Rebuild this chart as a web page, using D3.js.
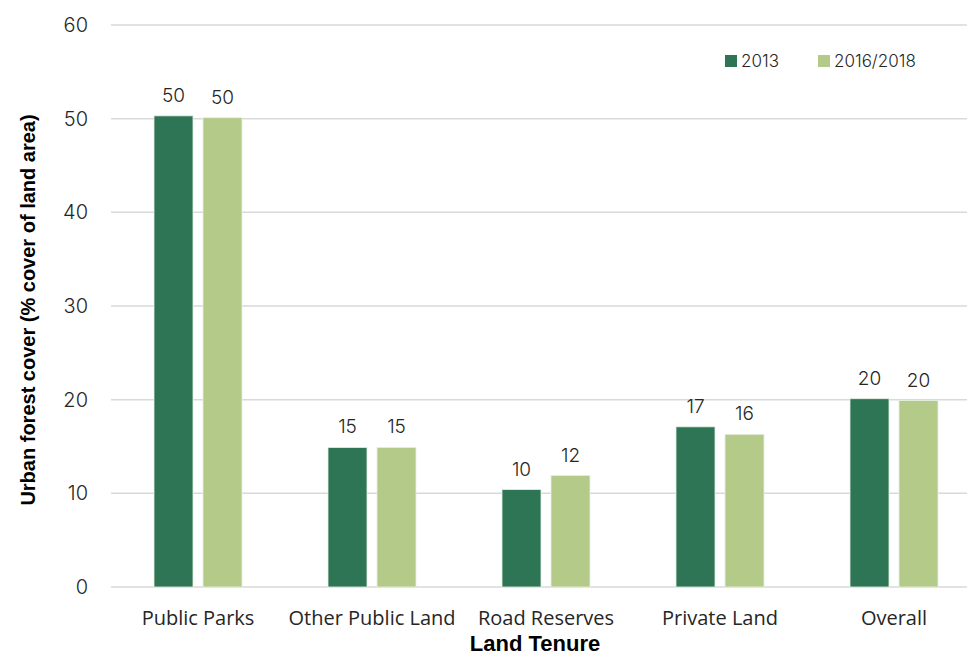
<!DOCTYPE html>
<html>
<head>
<meta charset="utf-8">
<script src="https://cdn.jsdelivr.net/npm/d3@7"></script>
<style>
  body { margin: 0; background: #fff; }
  svg { display: block; }
</style>
</head>
<body>
<div class="chart"></div>
<script>
var categories = ["Public Parks", "Other Public Land", "Road Reserves", "Private Land", "Overall"];
var series = ["2013", "2016/2018"];
var values2013 = [50.3, 14.9, 10.4, 17.1, 20.1];
var values2016 = [50.1, 14.9, 11.9, 16.3, 19.9];
var labels2013 = ["50", "15", "10", "17", "20"];
var labels2016 = ["50", "15", "12", "16", "20"];
var yTicks = [0, 10, 20, 30, 40, 50, 60];
var colors = ["#2e7556", "#b4ca89"];

var width = 967, height = 655;
var plotLeft = 111, plotRight = 981, plotTop = 25, plotBottom = 587;

var svg = d3.select(".chart")
    .append("svg")
    .attr("width", width)
    .attr("height", height);

var x0 = d3.scaleBand().domain(categories).range([plotLeft, plotRight]);
var x1 = d3.scaleBand().domain(series)
    .range([x0.step() / 2 - 44, x0.step() / 2 + 44])
    .paddingInner(10 / 49);
var y = d3.scaleLinear().domain([0, 60]).range([plotBottom, plotTop]);

// gridlines
svg.append("g")
    .selectAll("line")
    .data(yTicks)
    .enter().append("line")
    .attr("x1", plotLeft)
    .attr("x2", width)
    .attr("y1", function(d) { return y(d); })
    .attr("y2", function(d) { return y(d); })
    .style("stroke", "#d9d9d9")
    .style("stroke-width", 1.5);

// y tick labels
var yAxis = svg.append("g")
    .attr("transform", "translate(" + 88 + ",0)")
    .call(d3.axisLeft(y).tickValues(yTicks).tickSize(0).tickPadding(0));
yAxis.select(".domain").remove();
yAxis.selectAll("text")
    .style("font-family", "Inter, sans-serif")
    .style("font-weight", 300)
    .style("font-size", "20px")
    .style("fill", "#262626");

// bars
var rows = categories.map(function(c, i) {
    return [
        { cat: c, s: series[0], v: values2013[i], lab: labels2013[i], c: colors[0] },
        { cat: c, s: series[1], v: values2016[i], lab: labels2016[i], c: colors[1] }
    ];
});

var group = svg.selectAll(".grp")
    .data(rows)
    .enter().append("g")
    .attr("class", "grp")
    .attr("transform", function(d) { return "translate(" + x0(d[0].cat) + ",0)"; });

group.selectAll("rect")
    .data(function(d) { return d; })
    .enter().append("rect")
    .attr("x", function(d) { return x1(d.s); })
    .attr("y", function(d) { return y(d.v); })
    .attr("width", x1.bandwidth())
    .attr("height", function(d) { return y(0) - y(d.v); })
    .style("fill", function(d) { return d.c; })
    .style("stroke", "#e6efe0")
    .style("stroke-width", 0.8);

group.selectAll("text")
    .data(function(d) { return d; })
    .enter().append("text")
    .attr("x", function(d) { return x1(d.s) + x1.bandwidth() / 2; })
    .attr("y", function(d) { return y(d.v) - 14; })
    .attr("text-anchor", "middle")
    .style("font-family", "Inter, sans-serif")
    .style("font-weight", 300)
    .style("font-size", "19px")
    .style("fill", "#262626")
    .text(function(d) { return d.lab; });

// category labels
var xAxis = svg.append("g")
    .attr("transform", "translate(0," + plotBottom + ")")
    .call(d3.axisBottom(x0).tickSize(0).tickPadding(0));
xAxis.select(".domain").remove();
xAxis.selectAll("text")
    .attr("dy", null)
    .attr("y", 38)
    .style("font-family", "'Open Sans', sans-serif")
    .style("font-size", "20px")
    .style("fill", "#262626");

// axis titles
svg.append("text")
    .attr("transform", "translate(35," + 310 + ") rotate(-90)")
    .attr("text-anchor", "middle")
    .style("font-family", "'Liberation Sans', Arial, sans-serif")
    .style("font-weight", "bold")
    .style("font-size", "20px")
    .style("fill", "#000")
    .text("Urban forest cover (% cover of land area)");

svg.append("text")
    .attr("x", 535)
    .attr("y", 651)
    .attr("text-anchor", "middle")
    .style("font-family", "'Liberation Sans', Arial, sans-serif")
    .style("font-weight", "bold")
    .style("font-size", "22px")
    .style("fill", "#000")
    .text("Land Tenure");

// legend
var legendX = [725, 818];
var legend = svg.selectAll(".leg")
    .data(series)
    .enter().append("g")
    .attr("class", "leg")
    .attr("transform", function(d, i) { return "translate(" + legendX[i] + ",55)"; });

legend.append("rect")
    .attr("width", 12)
    .attr("height", 12)
    .style("fill", function(d, i) { return colors[i]; });

legend.append("text")
    .attr("x", 16)
    .attr("y", 12)
    .style("font-family", "Inter, sans-serif")
    .style("font-weight", 300)
    .style("font-size", "17px")
    .style("fill", "#262626")
    .text(function(d) { return d; });
</script>
</body>
</html>
